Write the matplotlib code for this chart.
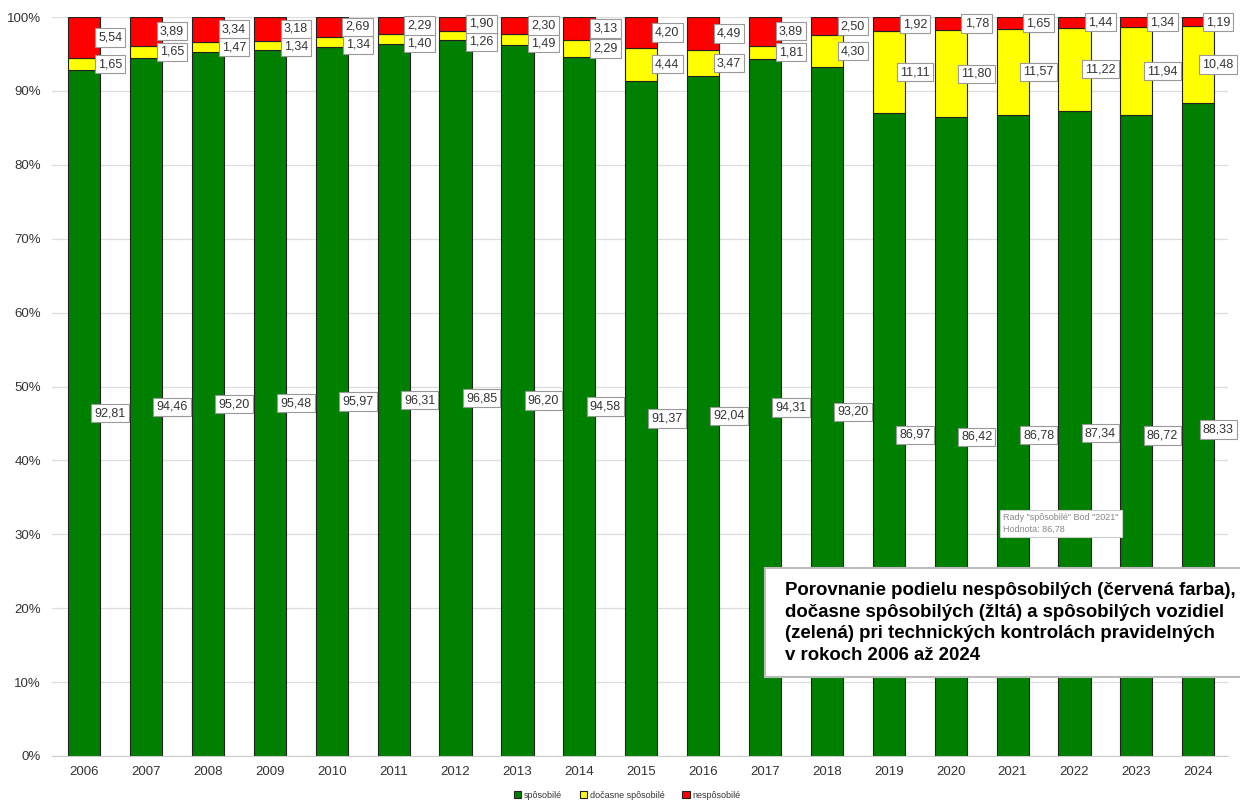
import numpy as np
import matplotlib.pyplot as plt
from matplotlib.patches import Rectangle

plt.rcParams['font.family'] = ['Liberation Sans', 'DejaVu Sans']

years = [str(y) for y in range(2006, 2025)]
sposobile = [92.81, 94.46, 95.20, 95.48, 95.97, 96.31, 96.85, 96.20, 94.58, 91.37,
             92.04, 94.31, 93.20, 86.97, 86.42, 86.78, 87.34, 86.72, 88.33]
docasne = [1.65, 1.65, 1.47, 1.34, 1.34, 1.40, 1.26, 1.49, 2.29, 4.44,
           3.47, 1.81, 4.30, 11.11, 11.80, 11.57, 11.22, 11.94, 10.48]
nesposobile = [5.54, 3.89, 3.34, 3.18, 2.69, 2.29, 1.90, 2.30, 3.13, 4.20,
               4.49, 3.89, 2.50, 1.92, 1.78, 1.65, 1.44, 1.34, 1.19]

series = [
    ("spôsobilé", sposobile, "#008000"),
    ("dočasne spôsobilé", docasne, "#ffff00"),
    ("nespôsobilé", nesposobile, "#ff0000"),
]

fig = plt.figure(figsize=(12.4, 8.01), dpi=100)
ax = fig.add_axes([52 / 1240, 45 / 801, 1176 / 1240, 739 / 801])

n = len(years)
x = np.arange(n)
width = 0.52
bottom = np.zeros(n)
label_y = []
for name, vals, color in series:
    vals = np.array(vals)
    ax.bar(x, vals, width, bottom=bottom, color=color, edgecolor="#222222",
           linewidth=0.8, label=name, zorder=2)
    label_y.append(bottom + vals / 2)
    bottom += vals

# keep labels inside the plot and stop neighbouring ones from overlapping:
# the top label is held below the frame, each lower one pushed down under it
min_gap = 2.4
label_y[2] = np.minimum(label_y[2], 99.3)
label_y[1] = np.minimum(label_y[1], label_y[2] - min_gap)
label_y[0] = np.minimum(label_y[0], label_y[1] - min_gap)

for (name, vals, color), ys in zip(series, label_y):
    for xi, v, y in zip(x, vals, ys):
        lx = min(xi + 0.42, n - 0.68)
        ax.annotate(f"{v:.2f}".replace(".", ","), (lx, y),
                    ha="center", va="center", fontsize=9, color="#333333", zorder=4,
                    annotation_clip=False,
                    bbox=dict(boxstyle="square,pad=0.25", fc="white",
                              ec="#999999", lw=0.8))

ax.set_xlim(-0.52, n - 0.52)
ax.set_ylim(0, 100)
ax.set_yticks(np.arange(0, 101, 10))
ax.set_yticklabels([f"{t}%" for t in range(0, 101, 10)])
ax.set_xticks(x)
ax.set_xticklabels(years)
ax.tick_params(axis="both", length=0, labelsize=9.5, colors="#333333")
ax.tick_params(axis="y", pad=8)
ax.tick_params(axis="x", pad=7)
ax.yaxis.grid(True, color="#dddddd", linewidth=0.9, zorder=0)
for side in ["top", "right", "left"]:
    ax.spines[side].set_visible(False)
ax.spines["bottom"].set_color("#cccccc")

# hover tooltip left on the 2021 bar
ax.text(15 - 0.15, 31.5, 'Rady "spôsobilé" Bod "2021"\nHodnota: 86,78',
        fontsize=6.5, color="#888888", ha="left", va="center", zorder=5,
        linespacing=1.4,
        bbox=dict(boxstyle="square,pad=0.35", fc="white", ec="#cccccc", lw=0.8))

# caption box
fig.patches.append(Rectangle((765 / 1240, 124 / 801), 480 / 1240, 109 / 801,
                             transform=fig.transFigure, fc="white",
                             ec="#bbbbbb", lw=1.5, zorder=10))
fig.text(785 / 1240, 178 / 801,
         "Porovnanie podielu nespôsobilých (červená farba),\n"
         "dočasne spôsobilých (žltá) a spôsobilých vozidiel\n"
         "(zelená) pri technických kontrolách pravidelných\n"
         "v rokoch 2006 až 2024",
         fontsize=13.4, fontweight="bold", color="black", ha="left", va="center",
         linespacing=1.38, zorder=11)

fig.legend(loc="center", bbox_to_anchor=(627 / 1240, 6 / 801), ncol=3,
           frameon=False, fontsize=6.5, handlelength=0.8, handleheight=0.8,
           handletextpad=0.3, columnspacing=2.0, labelcolor="#333333")

fig.savefig("out.png", dpi=100)
